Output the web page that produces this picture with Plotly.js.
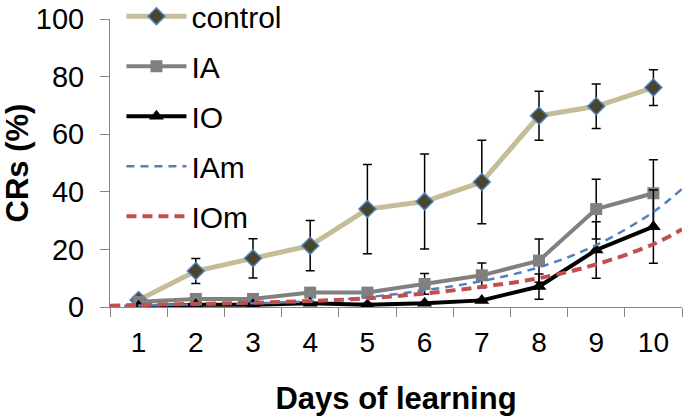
<!DOCTYPE html>
<html>
<head>
<meta charset="utf-8">
<script src="https://cdn.plot.ly/plotly-3.0.1.min.js"></script>
<style>html,body{margin:0;padding:0;background:#fff;}#chart{width:685px;height:419px;}</style>
</head>
<body>
<div id="chart"></div>
<script>
// Days of learning
const days = [1, 2, 3, 4, 5, 6, 7, 8, 9, 10];
const dayLabels = ['1', '2', '3', '4', '5', '6', '7', '8', '9', '10'];

// Measured CRs (%) with error bars
const controlVals = [2.4, 12.5, 16.9, 21.3, 34, 36.6, 43.4, 66.4, 69.7, 76.2];
const controlErr  = [0.5, 4.3, 6.8, 8.7, 15.5, 16.5, 14.5, 8.5, 7.7, 6.2];
const iaVals = [1.8, 2.8, 2.8, 5, 5, 8, 11, 16.1, 34, 39.5];
const iaErr  = [0.5, 0.5, 0.5, 0.5, 0.5, 3.6, 4.3, 7.5, 10.4, 11.6];
const ioVals = [0.3, 0.8, 0.8, 1.3, 0.8, 1.3, 2.3, 7.1, 19.8, 27.9];
const ioErr  = [0.3, 0.5, 0.5, 0.5, 0.5, 0.5, 0.5, 4.4, 9.8, 12.7];

// Model curves (dashed)
const modelDays = [0.5, 1, 2, 3, 4, 5, 6, 7, 8, 9, 10, 10.5];
const iamVals = [0.3, 0.5, 0.9, 1.3, 2, 3.4, 5.8, 9, 13.8, 21.5, 33, 41];
const iomVals = [0.4, 0.7, 1.1, 1.5, 2.1, 3, 4.7, 7, 10, 14.8, 21.8, 27];

const errStyle = {type: 'data', visible: true, color: '#000000', thickness: 1.5, width: 4.5};

const traces = [
  {x: days, y: controlVals, name: 'control', mode: 'lines+markers', legendgroup: 'a',
   line: {color: '#C4BD97', width: 5},
   marker: {symbol: 'diamond', size: 13, color: '#4A452A', line: {color: '#4F81BD', width: 1.5}},
   error_y: Object.assign({array: controlErr}, errStyle)},
  {x: days, y: iaVals, name: 'IA', mode: 'lines+markers', legendgroup: 'b',
   line: {color: '#808080', width: 4},
   marker: {symbol: 'square', size: 12, color: '#808080'},
   error_y: Object.assign({array: iaErr}, errStyle)},
  {x: days, y: ioVals, name: 'IO', mode: 'lines+markers', legendgroup: 'c',
   line: {color: '#000000', width: 4},
   marker: {symbol: 'triangle-up', size: 13, color: '#000000'},
   error_y: Object.assign({array: ioErr}, errStyle)},
  {x: modelDays, y: iamVals, name: 'IAm', mode: 'lines', legendgroup: 'd',
   line: {color: '#4F81BD', width: 2.5, dash: '8px,6px', shape: 'spline'}},
  {x: modelDays, y: iomVals, name: 'IOm', mode: 'lines', legendgroup: 'e',
   line: {color: '#C0504D', width: 4, dash: '10px,6px', shape: 'spline'}}
];

const axisColor = '#868686';
const layout = {
  width: 685, height: 419,
  margin: {l: 110, r: 3, t: 19, b: 112, autoexpand: false},
  paper_bgcolor: '#ffffff', plot_bgcolor: '#ffffff',
  font: {family: 'Liberation Sans, Arial, sans-serif', size: 28, color: '#000000'},
  showlegend: true,
  legend: {x: 0.02, y: 1.10, xanchor: 'left', yanchor: 'top', bgcolor: 'rgba(0,0,0,0)',
           font: {size: 30}, tracegroupgap: 8, itemwidth: 60, maxheight: 400},
  xaxis: {
    range: [0.5, 10.5], tickmode: 'array', tickvals: days, ticktext: dayLabels,
    ticks: '', showgrid: false, zeroline: false, showline: true, linecolor: axisColor, linewidth: 1,
    tickfont: {size: 28}, ticklabelstandoff: 10, automargin: false,
    minor: {ticks: 'outside', tickmode: 'linear', tick0: 0.5, dtick: 1, ticklen: 9, tickcolor: axisColor, tickwidth: 1, showgrid: false},
    title: {text: '<b>Days of learning</b>', font: {size: 31}, standoff: 30}
  },
  yaxis: {
    range: [0, 100], tickmode: 'linear', tick0: 0, dtick: 20,
    ticks: 'outside', ticklen: 9, tickcolor: axisColor, tickwidth: 1,
    showgrid: false, zeroline: false, showline: true, linecolor: axisColor, linewidth: 1,
    tickfont: {size: 29}, ticklabelstandoff: 10, automargin: false,
    title: {text: '<b>CRs (%)</b>', font: {size: 31}, standoff: 6}
  }
};

Plotly.newPlot('chart', traces, layout, {displayModeBar: false, staticPlot: true});
</script>
</body>
</html>
